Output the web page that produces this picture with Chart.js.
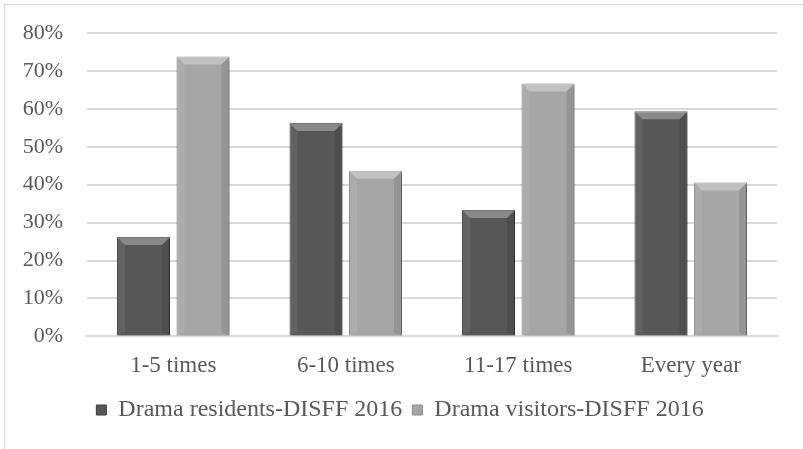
<!DOCTYPE html>
<html>
<head>
<meta charset="utf-8">
<script src="https://cdn.jsdelivr.net/npm/chart.js@4"></script>
<style>
  html, body { margin: 0; padding: 0; background: #fff; }
  #wrap { position: relative; box-sizing: border-box; border-left: 1px solid #d9d9d9; border-top: 1px solid #d9d9d9; margin: 4px 0 0 4px; width: 799px; height: 445px; }
</style>
</head>
<body>
<div id="wrap"><canvas id="chart"></canvas></div>
<script>
const categories = ["1-5 times", "6-10 times", "11-17 times", "Every year"];
const residents = [26.2, 56.3, 33.3, 59.4];
const visitors = [73.8, 43.7, 66.7, 40.6];
const seriesNames = ["Drama residents-DISFF 2016", "Drama visitors-DISFF 2016"];

const textColor = "#595959";
const serif = "'Liberation Serif', 'Times New Roman', serif";

// drop shadow + bevel like the office 3d bar style
const bevel = {
    id: "bevel",
    beforeDatasetsDraw(chart) {
        const ctx = chart.ctx;
        ctx.save();
        ctx.shadowColor = "rgba(0,0,0,0.35)";
        ctx.shadowBlur = 4;
        ctx.shadowOffsetX = 2;
        ctx.shadowOffsetY = 2;
    },
    afterDatasetsDraw(chart) {
        const ctx = chart.ctx;
        ctx.restore();
        chart.data.datasets.forEach((ds, i) => {
            chart.getDatasetMeta(i).data.forEach((bar) => {
                const l = bar.x - bar.width / 2;
                const r = bar.x + bar.width / 2;
                const t = bar.y;
                const b = bar.base;
                const s = 8;
                const poly = (pts, fill) => {
                    ctx.beginPath();
                    ctx.moveTo(pts[0][0], pts[0][1]);
                    pts.slice(1).forEach((p) => ctx.lineTo(p[0], p[1]));
                    ctx.closePath();
                    ctx.fillStyle = fill;
                    ctx.fill();
                };
                poly([[l, t], [r, t], [r - s, t + s], [l + s, t + s]], "rgba(255,255,255,0.3)");
                poly([[l, t], [l + s, t + s], [l + s, b - 3], [l, b]], "rgba(255,255,255,0.07)");
                poly([[r, t], [r, b], [r - s, b - 3], [r - s, t + s]], "rgba(0,0,0,0.1)");
            });
        });
    },
};

new Chart(document.querySelector("#chart"), {
    type: "bar",
    data: {
        labels: categories,
        datasets: [
            {
                label: seriesNames[0],
                data: residents,
                backgroundColor: "#575757",
                borderColor: "#3e3e3e",
                borderWidth: 1,
            },
            {
                label: seriesNames[1],
                data: visitors,
                backgroundColor: "#a6a6a6",
                borderColor: "#8c8c8c",
                borderWidth: 1,
            },
        ],
    },
    options: {
        responsive: true,
        maintainAspectRatio: false,
        animation: false,
        datasets: {
            bar: { categoryPercentage: 0.69, barPercentage: 0.89 },
        },
        layout: { padding: { left: 18, right: 26, top: 28, bottom: 17 } },
        scales: {
            x: {
                grid: { display: false },
                border: { display: true, color: "#d9d9d9", width: 2 },
                ticks: { color: textColor, font: { family: serif, size: 23 }, padding: 8, maxRotation: 0 },
            },
            y: {
                min: 0,
                max: 80,
                ticks: {
                    stepSize: 10,
                    color: textColor,
                    font: { family: serif, size: 22 },
                    padding: 24,
                    callback: (v) => v + "%",
                },
                grid: { color: "#d9d9d9", lineWidth: 2, drawTicks: false },
                border: { display: false },
                afterFit(scale) {
                    scale.width = 64;
                    scale.paddingTop = 0;
                },
            },
        },
        plugins: {
            legend: {
                position: "bottom",
                labels: {
                    color: textColor,
                    font: { family: serif, size: 24 },
                    boxWidth: 10,
                    boxHeight: 10,
                    padding: 10,
                },
            },
            tooltip: { enabled: false },
        },
    },
    plugins: [bevel],
});
</script>
</body>
</html>
